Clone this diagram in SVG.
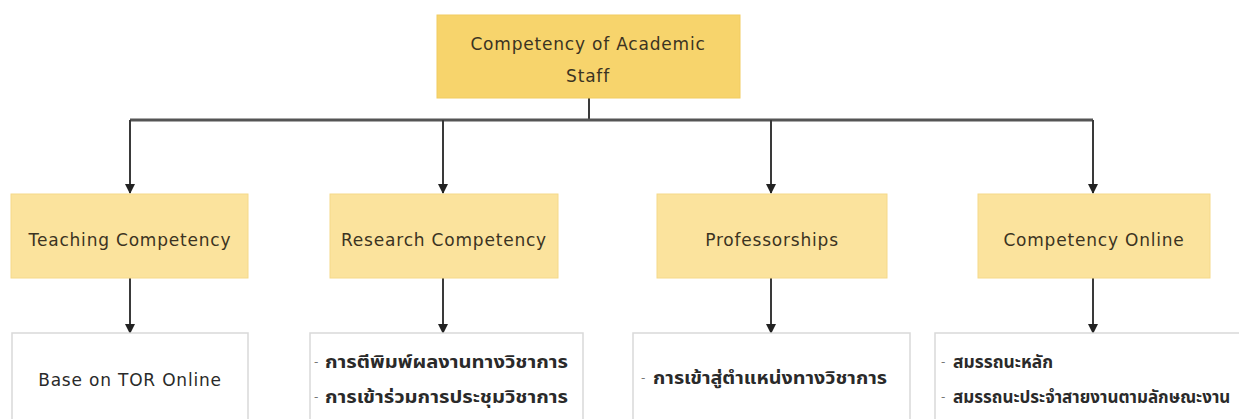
<svg xmlns="http://www.w3.org/2000/svg" width="1239" height="419" viewBox="0 0 1239 419">
  <style>
    .root { fill: #f7d46c; stroke: #f1cc60; stroke-width: 1; }
    .cat { fill: #fbe39d; stroke: #f5d98a; stroke-width: 1; }
    .leaf { fill: #ffffff; stroke: #d9d9d9; stroke-width: 1.5; }
    .lbl { font-family: "DejaVu Sans", "Noto Sans", sans-serif; font-size: 17px; letter-spacing: 0.8px; fill: #3b3322; text-anchor: middle; dominant-baseline: central; }
    .item { font-family: "DejaVu Sans", "Noto Sans", "Noto Sans Thai", sans-serif; font-size: 17px; fill: #2a2a2a; dominant-baseline: central; font-weight: bold; }
    .dash { font-family: "DejaVu Sans", sans-serif; font-size: 12px; fill: #777777; dominant-baseline: central; }
    .itemc { font-family: "DejaVu Sans", "Noto Sans", sans-serif; font-size: 17px; letter-spacing: 0.8px; fill: #2a2a2a; text-anchor: middle; dominant-baseline: central; }
    .wire { fill: none; stroke: #3a3a3a; stroke-width: 2; }
    .bus { fill: none; stroke: #555555; stroke-width: 3; }
  </style>
  <defs>
    <marker id="tip" viewBox="0 0 10 10" refX="9" refY="5" markerWidth="5" markerHeight="5" orient="auto">
      <path d="M0,0 L10,5 L0,10 z" fill="#222222"/>
    </marker>
  </defs>
  <rect width="1239" height="419" fill="#ffffff"/>

  <!-- connectors -->
  <g id="connectors">
    <path class="wire" d="M589,98 V119"/>
    <path class="bus" d="M130,120 H1093"/>
    <path class="wire" d="M130,120 V193" marker-end="url(#tip)"/>
    <path class="wire" d="M443,120 V193" marker-end="url(#tip)"/>
    <path class="wire" d="M771,120 V193" marker-end="url(#tip)"/>
    <path class="wire" d="M1093,120 V193" marker-end="url(#tip)"/>
    <path class="wire" d="M130,278 V333" marker-end="url(#tip)"/>
    <path class="wire" d="M443,278 V333" marker-end="url(#tip)"/>
    <path class="wire" d="M771,278 V333" marker-end="url(#tip)"/>
    <path class="wire" d="M1093,278 V333" marker-end="url(#tip)"/>
  </g>

  <!-- top node -->
  <g id="competency-of-academic-staff">
    <rect class="root" x="437" y="15" width="303" height="83"/>
    <text class="lbl" x="588" y="44">Competency of Academic</text>
    <text class="lbl" x="588" y="76">Staff</text>
  </g>

  <!-- category nodes -->
  <g id="teaching-competency">
    <rect class="cat" x="11" y="194" width="237" height="84"/>
    <text class="lbl" x="130" y="240">Teaching Competency</text>
  </g>
  <g id="research-competency">
    <rect class="cat" x="330" y="194" width="228" height="84"/>
    <text class="lbl" x="444" y="240">Research Competency</text>
  </g>
  <g id="professorships">
    <rect class="cat" x="657" y="194" width="230" height="84"/>
    <text class="lbl" x="772" y="240">Professorships</text>
  </g>
  <g id="competency-online">
    <rect class="cat" x="978" y="194" width="232" height="84"/>
    <text class="lbl" x="1094" y="240">Competency Online</text>
  </g>

  <!-- detail nodes -->
  <g id="base-on-tor">
    <rect class="leaf" x="12" y="333" width="236" height="90"/>
    <text class="itemc" x="130" y="380">Base on TOR Online</text>
  </g>
  <g id="research-items">
    <rect class="leaf" x="310" y="333" width="273" height="90"/>
    <text class="dash" x="314" y="362">-</text>
    <text class="item" x="325" y="362" textLength="243" lengthAdjust="spacingAndGlyphs">การตีพิมพ์ผลงานทางวิชาการ</text>
    <text class="dash" x="314" y="397">-</text>
    <text class="item" x="325" y="397" textLength="243" lengthAdjust="spacingAndGlyphs">การเข้าร่วมการประชุมวิชาการ</text>
  </g>
  <g id="professorship-items">
    <rect class="leaf" x="633" y="333" width="277" height="90"/>
    <text class="dash" x="641" y="378">-</text>
    <text class="item" x="653" y="378" textLength="234" lengthAdjust="spacingAndGlyphs">การเข้าสู่ตำแหน่งทางวิชาการ</text>
  </g>
  <g id="online-items">
    <rect class="leaf" x="935" y="333" width="310" height="90"/>
    <text class="dash" x="941" y="362">-</text>
    <text class="item" x="953" y="362" textLength="100" lengthAdjust="spacingAndGlyphs">สมรรถนะหลัก</text>
    <text class="dash" x="941" y="397">-</text>
    <text class="item" x="953" y="397">สมรรถนะประจำสายงานตามลักษณะงาน</text>
  </g>
</svg>
